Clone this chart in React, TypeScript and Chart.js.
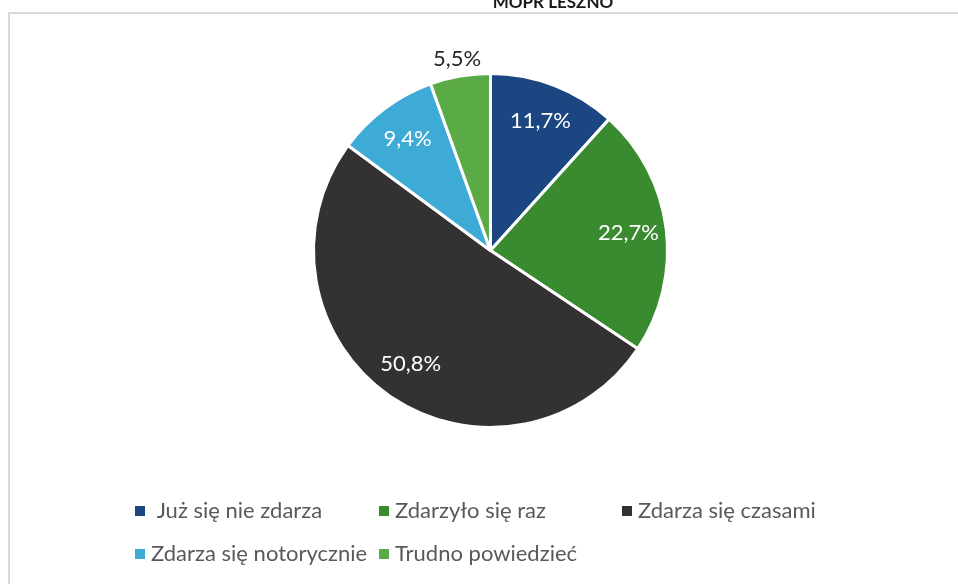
import React, { useEffect, useRef } from "react";
import { Chart, registerables } from "chart.js";

Chart.register(...registerables);

const titleText = "MOPR LESZNO";
const categories = [
  "Już się nie zdarza",
  "Zdarzyło się raz",
  "Zdarza się czasami",
  "Zdarza się notorycznie",
  "Trudno powiedzieć",
];
const values = [11.7, 22.7, 50.8, 9.4, 5.5];
const valueLabels = ["11,7%", "22,7%", "50,8%", "9,4%", "5,5%"];
const colors = ["#1b4682", "#3a8a30", "#333132", "#3eaad6", "#5aab46"];

const FONT = "Lato, 'Open Sans', sans-serif";

const decorPlugin = {
  id: "decor",
  beforeDraw(chart: any) {
    const ctx = chart.ctx;
    ctx.save();
    ctx.fillStyle = "#ffffff";
    ctx.fillRect(0, 0, chart.width, chart.height);
    // frame
    ctx.strokeStyle = "#d9d9d9";
    ctx.lineWidth = 2;
    ctx.beginPath();
    ctx.moveTo(9, chart.height + 5);
    ctx.lineTo(9, 13);
    ctx.lineTo(chart.width + 5, 13);
    ctx.stroke();
    // cut-off title
    ctx.fillStyle = "#1a1a1a";
    ctx.font = "bold 17px " + FONT;
    ctx.textAlign = "center";
    ctx.textBaseline = "alphabetic";
    ctx.fillText(titleText, 553, 8);
    ctx.restore();
  },
  afterDraw(chart: any) {
    const ctx = chart.ctx;
    const meta = chart.getDatasetMeta(0);
    ctx.save();
    ctx.font = "22px " + FONT;
    ctx.textAlign = "center";
    ctx.textBaseline = "middle";
    meta.data.forEach((arc: any, i: number) => {
      const { x, y, startAngle, endAngle, outerRadius } = arc.getProps(
        ["x", "y", "startAngle", "endAngle", "outerRadius"],
        true
      );
      const mid = (startAngle + endAngle) / 2;
      let r = outerRadius * 0.785;
      let color = "#ffffff";
      if (i === 4) {
        r = outerRadius + 17;
        color = "#262626";
      }
      ctx.fillStyle = color;
      ctx.fillText(valueLabels[i], x + Math.cos(mid) * r, y + Math.sin(mid) * r);
    });
    // legend
    const rows = [
      [0, 1, 2],
      [3, 4],
    ];
    const colX = [135, 379, 622];
    const rowY = [511, 554];
    ctx.font = "22px " + FONT;
    ctx.textAlign = "left";
    rows.forEach((row, ri) => {
      row.forEach((idx, ci) => {
        const lx = colX[ci];
        const ly = rowY[ri];
        ctx.fillStyle = colors[idx];
        ctx.fillRect(lx, ly - 5, 10, 10);
        ctx.fillStyle = "#595959";
        const txt = idx === 0 ? " " + categories[idx] : categories[idx];
        ctx.fillText(txt, lx + 16, ly);
      });
    });
    ctx.restore();
  },
};

export default function App() {
  const ref = useRef<HTMLCanvasElement>(null);
  useEffect(() => {
    document.body.style.margin = "0";
    const chart = new Chart(ref.current!, {
      type: "pie",
      data: {
        labels: categories,
        datasets: [
          {
            data: values,
            backgroundColor: colors,
            borderColor: "#ffffff",
            borderWidth: 3,
          },
        ],
      },
      options: {
        animation: false,
        responsive: false,
        layout: { padding: { left: 312, right: 289, top: 71, bottom: 154 } },
        plugins: {
          legend: { display: false },
          tooltip: { enabled: false },
          title: { display: false },
        },
      },
      plugins: [decorPlugin],
    });
    return () => chart.destroy();
  }, []);
  return (
    <div style={{ position: "absolute", left: 0, top: 0, width: 958, height: 584 }}>
      <canvas ref={ref} width={958} height={584} style={{ width: 958, height: 584 }} />
    </div>
  );
}
